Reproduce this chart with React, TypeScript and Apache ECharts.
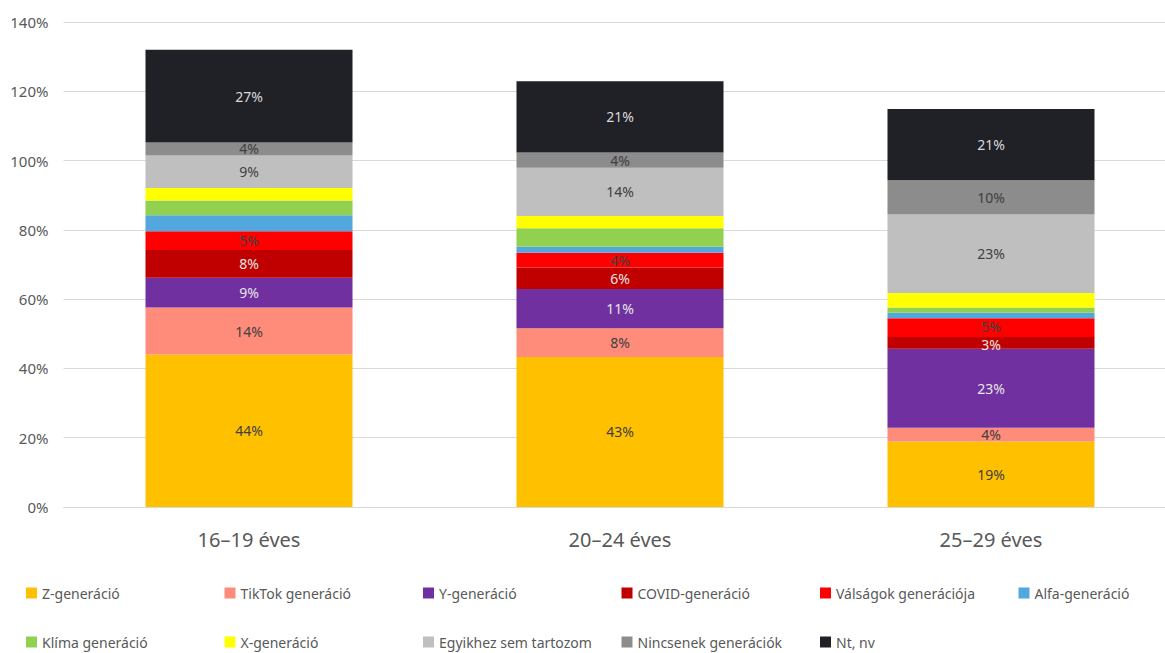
import React, { useEffect, useRef } from "react";
import * as echarts from "echarts";

// Age groups on the category axis
const categories = ["16–19 éves", "20–24 éves", "25–29 éves"];

// Share of answers per generation label, in percent, one value per age group
const zGen = [44.0, 43.3, 18.9];
const tiktokGen = [13.6, 8.3, 4.0];
const yGen = [8.6, 11.3, 22.8];
const covidGen = [8.0, 6.2, 3.4];
const valsagokGen = [5.4, 4.3, 5.4];
const alfaGen = [4.6, 1.7, 1.6];
const klimaGen = [4.3, 5.4, 1.5];
const xGen = [3.6, 3.5, 4.2];
const egyikhezSem = [9.4, 13.9, 22.6];
const nincsenek = [3.7, 4.4, 9.9];
const ntNv = [26.8, 20.6, 20.6];

const yTicks = { min: 0, max: 140, interval: 20 };

const FONT = "Noto Sans";
const DARK_TEXT = "#404040";
const LIGHT_TEXT = "#e6e6e6";

type SeriesDef = {
  name: string;
  data: number[];
  color: string;
  labelColor?: string; // no label when undefined
  // vertical nudge of a label in a thin segment, per category index
  labelNudge?: Record<number, number>;
};

const seriesDefs: SeriesDef[] = [
  { name: "Z-generáció", data: zGen, color: "#FFC000", labelColor: DARK_TEXT },
  { name: "TikTok generáció", data: tiktokGen, color: "#FF8B7A", labelColor: DARK_TEXT },
  { name: "Y-generáció", data: yGen, color: "#7030A0", labelColor: LIGHT_TEXT },
  { name: "COVID-generáció", data: covidGen, color: "#C00000", labelColor: LIGHT_TEXT, labelNudge: { 2: 2 } },
  { name: "Válságok generációja", data: valsagokGen, color: "#FF0000", labelColor: DARK_TEXT, labelNudge: { 2: -1 } },
  { name: "Alfa-generáció", data: alfaGen, color: "#52A7DE" },
  { name: "Klíma generáció", data: klimaGen, color: "#92D050" },
  { name: "X-generáció", data: xGen, color: "#FFFF00" },
  { name: "Egyikhez sem tartozom", data: egyikhezSem, color: "#BFBFBF", labelColor: DARK_TEXT },
  { name: "Nincsenek generációk", data: nincsenek, color: "#8C8C8C", labelColor: DARK_TEXT },
  { name: "Nt, nv", data: ntNv, color: "#202126", labelColor: "#d9d9d9" },
];

// Legend laid out in fixed columns, two rows
const legendColumns: string[][] = [
  ["Z-generáció", "Klíma generáció"],
  ["TikTok generáció", "X-generáció"],
  ["Y-generáció", "Egyikhez sem tartozom"],
  ["COVID-generáció", "Nincsenek generációk"],
  ["Válságok generációja", "Nt, nv"],
  ["Alfa-generáció"],
];
const legendLefts = [26, 224.5, 423, 621.5, 820, 1018.5];

export default function App() {
  const ref = useRef<HTMLDivElement>(null);

  useEffect(() => {
    if (!ref.current) return;
    const chart = echarts.init(ref.current, undefined, { renderer: "svg" });

    const series = seriesDefs.map((s) => ({
      name: s.name,
      type: "bar",
      stack: "total",
      barWidth: "55.8%",
      data: s.data.map((v, i) =>
        s.labelNudge && s.labelNudge[i] !== undefined
          ? { value: v, label: { offset: [0, s.labelNudge[i]] } }
          : v
      ),
      itemStyle: { color: s.color },
      emphasis: { disabled: true },
      label: s.labelColor
        ? {
            show: true,
            position: "inside",
            color: s.labelColor,
            fontFamily: FONT,
            fontSize: 14,
            lineHeight: 11,
            formatter: (p: any) => `${Math.round(p.value)}%`,
          }
        : { show: false },
    }));

    const legends = legendColumns.map((names, i) => ({
      orient: "vertical",
      left: legendLefts[i],
      top: 586,
      padding: 0,
      itemWidth: 11,
      itemHeight: 11,
      itemGap: 35,
      icon: "rect",
      selectedMode: false,
      data: names,
      textStyle: {
        color: "#595959",
        fontFamily: FONT,
        fontSize: 14,
        lineHeight: 14,
      },
    }));

    chart.setOption({
      animation: false,
      backgroundColor: "#ffffff",
      textStyle: { fontFamily: FONT },
      legend: legends,
      grid: {
        left: 63.5,
        width: 1113,
        top: 22,
        bottom: 146,
        containLabel: false,
        outerBoundsMode: "none",
      },
      xAxis: {
        type: "category",
        data: categories,
        axisLine: { show: true, lineStyle: { color: "#d9d9d9", width: 1 } },
        axisTick: { show: false },
        axisLabel: { color: "#595959", fontFamily: FONT, fontSize: 20, margin: 22 },
      },
      yAxis: {
        type: "value",
        min: yTicks.min,
        max: yTicks.max,
        interval: yTicks.interval,
        axisLine: { show: false },
        axisTick: { show: false },
        axisLabel: {
          color: "#595959",
          fontFamily: FONT,
          fontSize: 15,
          margin: 15,
          formatter: "{value}%",
        },
        splitLine: { lineStyle: { color: "#d9d9d9", width: 1 } },
      },
      series,
    });

    return () => chart.dispose();
  }, []);

  return (
    <div
      ref={ref}
      style={{ position: "fixed", left: 0, top: 0, width: 1165, height: 653 }}
    />
  );
}
